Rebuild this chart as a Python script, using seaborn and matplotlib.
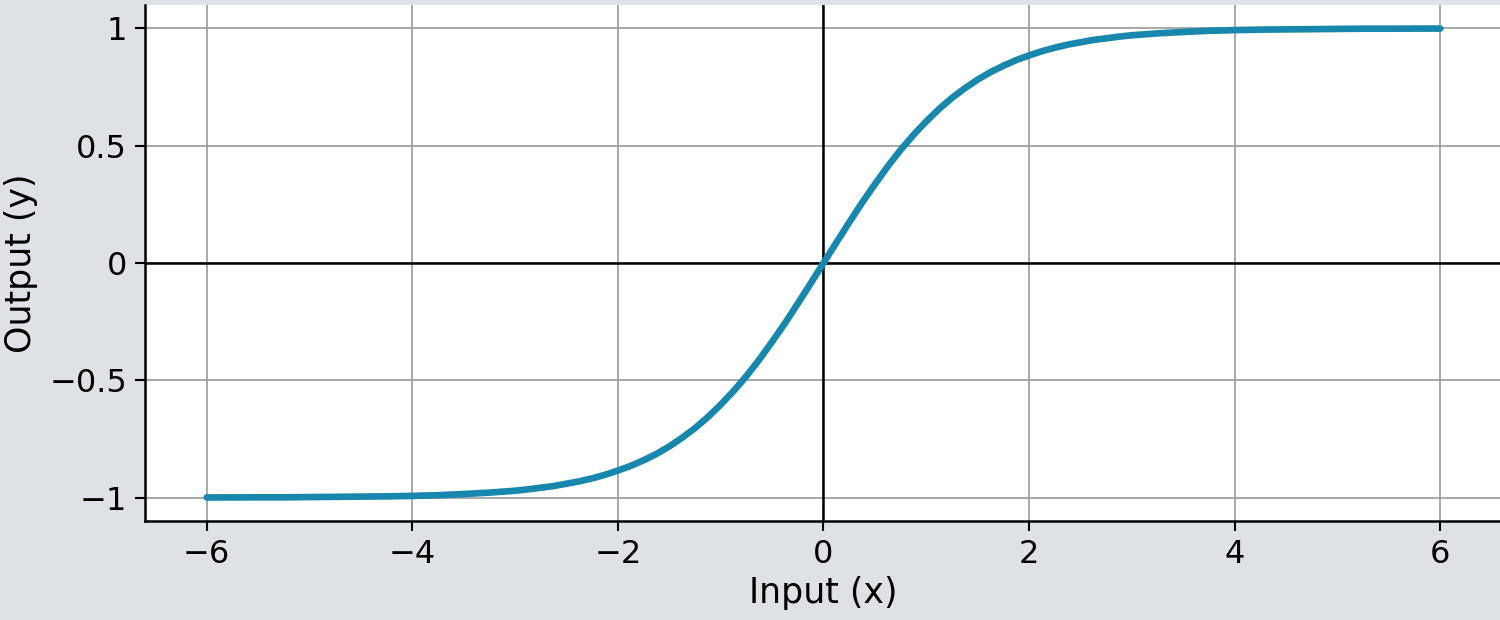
import pandas as pd
import matplotlib
matplotlib.use("Agg")
import matplotlib.pyplot as plt
import seaborn as sns

# values (positive half, the curve is odd-symmetric)
x_pos = [0, 0.125, 0.25, 0.375, 0.5, 0.625, 0.75, 0.875, 1, 1.125, 1.25,
         1.375, 1.5, 1.625, 1.75, 1.875, 2, 2.125, 2.25, 2.375, 2.5, 2.625,
         2.75, 2.875, 3, 3.25, 3.5, 3.75, 4, 4.25, 4.5, 4.75, 5, 5.25, 5.5,
         5.75, 6]
y_pos = [0.0, 0.087, 0.173, 0.257, 0.336, 0.412, 0.482, 0.546, 0.604,
         0.657, 0.704, 0.745, 0.782, 0.814, 0.841, 0.865, 0.885, 0.903,
         0.918, 0.931, 0.941, 0.951, 0.958, 0.965, 0.971, 0.979, 0.985,
         0.990, 0.993, 0.995, 0.996, 0.997, 0.998, 0.999, 0.999, 0.9994,
         0.9996]

x_vals = [-v for v in x_pos[:0:-1]] + x_pos
y_vals = [-v for v in y_pos[:0:-1]] + y_pos

x_ticks = [-6, -4, -2, 0, 2, 4, 6]
y_ticks = [-1, -0.5, 0, 0.5, 1]
y_ticklabels = ["\u22121", "\u22120.5", "0", "0.5", "1"]

df = pd.DataFrame({"x": x_vals, "y": y_vals})

sns.set_style("ticks")
plt.rcParams["font.family"] = ["DejaVu Sans"]

fig = plt.figure(figsize=(15, 6.2), dpi=100, facecolor="#dee2e7")
ax = fig.add_axes([145 / 1500, 99 / 620, 1357 / 1500, 516 / 620])
ax.set_facecolor("white")

ax.grid(True, color="#9a9a9a", linewidth=1.2)
ax.axhline(0, color="black", linewidth=1.8, zorder=2)
ax.axvline(0, color="black", linewidth=1.8, zorder=2)

sns.lineplot(data=df, x="x", y="y", ax=ax, color="#1787ad", linewidth=4.8,
             solid_capstyle="round", solid_joinstyle="round", zorder=3)

ax.set_xlim(-6.6, 6.6)
ax.set_ylim(-1.1, 1.1)
ax.set_xticks(x_ticks)
ax.set_yticks(y_ticks)
ax.set_yticklabels(y_ticklabels)
ax.tick_params(labelsize=23, length=7, width=1.5, color="black",
               labelcolor="black", pad=6)

for s in ["top", "right"]:
    ax.spines[s].set_visible(False)
for s in ["left", "bottom"]:
    ax.spines[s].set_color("black")
    ax.spines[s].set_linewidth(1.8)

ax.set_xlabel("Input (x)", fontsize=25, labelpad=4, color="black")
ax.set_ylabel("Output (y)", fontsize=25, labelpad=8, color="black")

fig.savefig("out.png", dpi=100, facecolor=fig.get_facecolor())
